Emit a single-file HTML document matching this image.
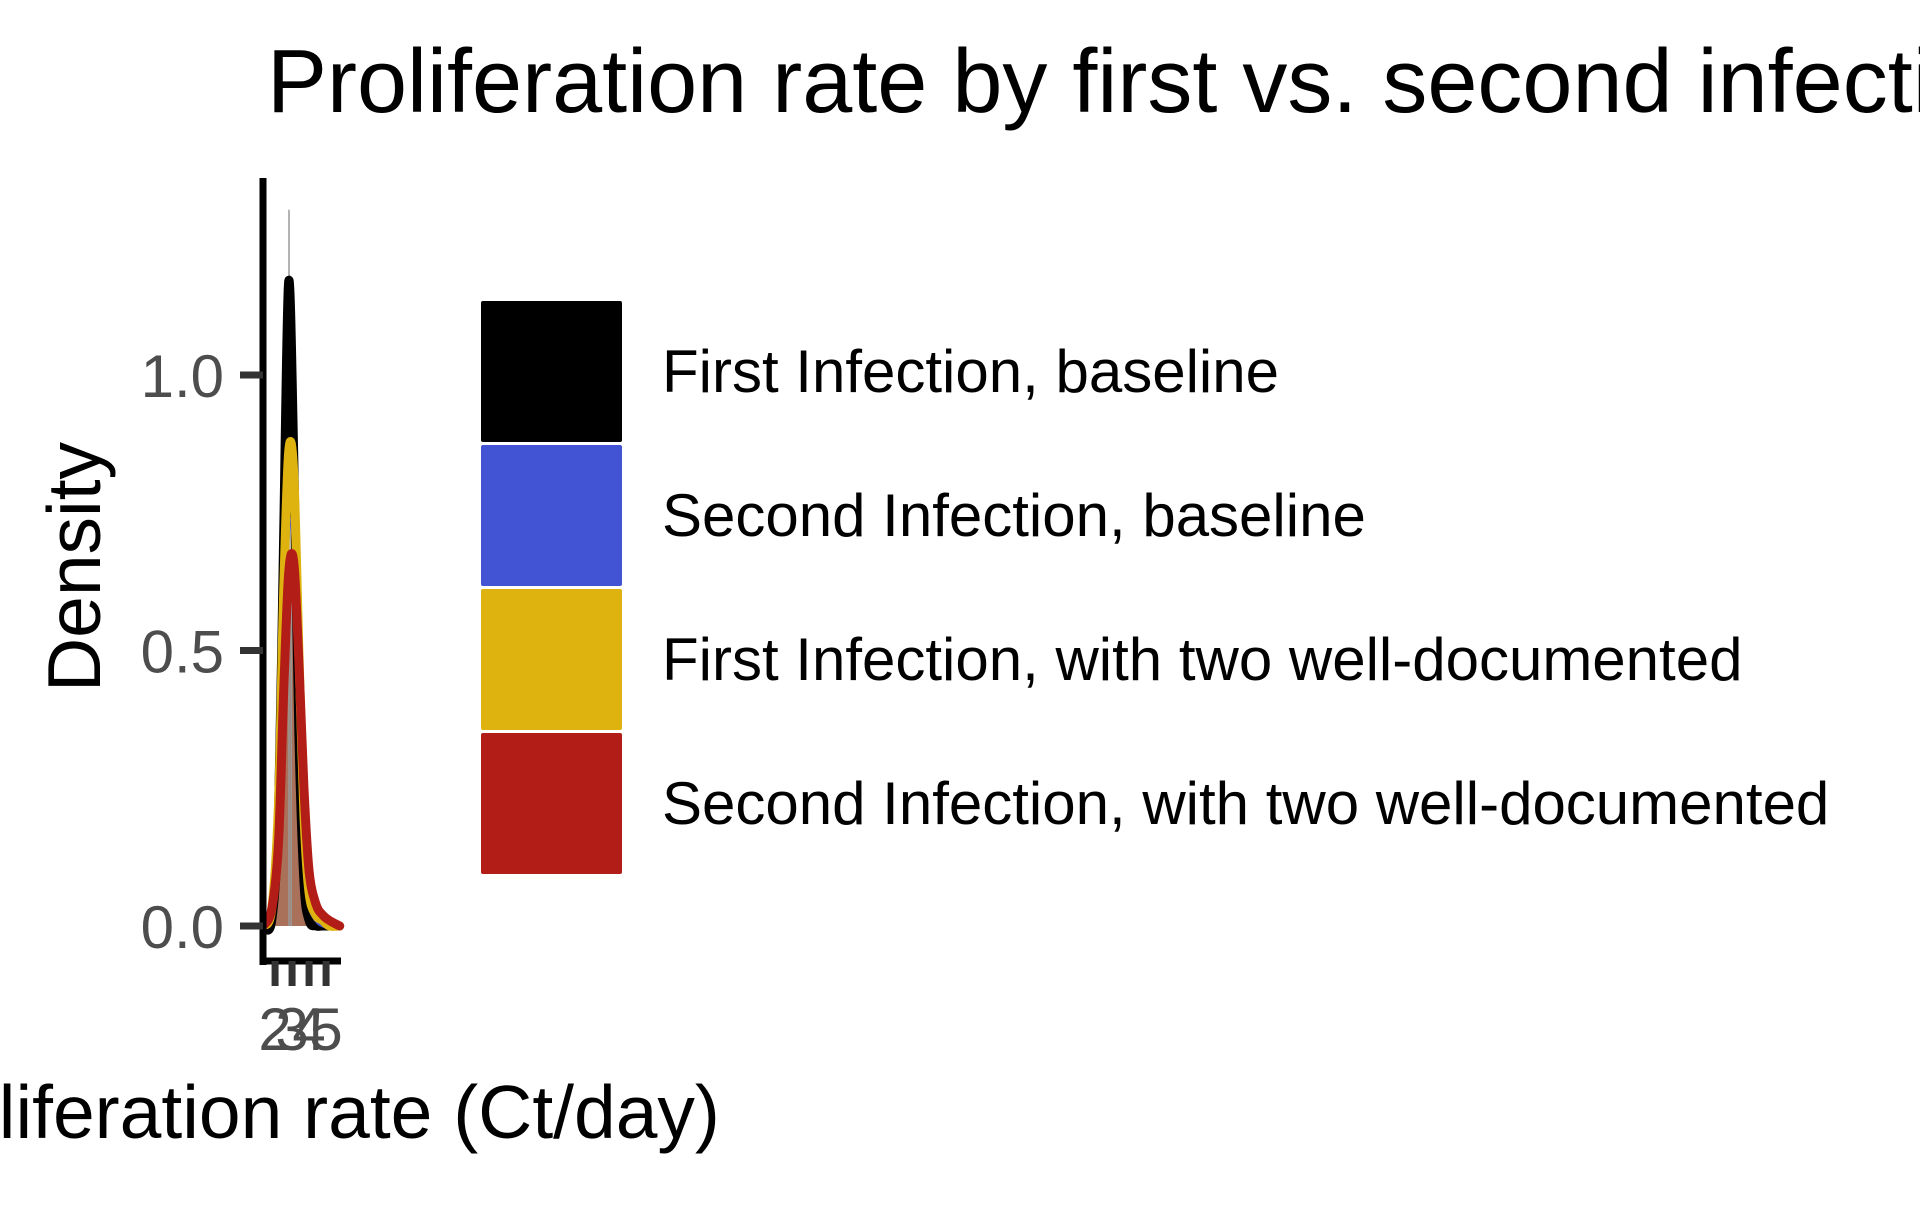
<!DOCTYPE html>
<html><head><meta charset="utf-8"><style>
body{margin:0;background:#fff;width:1920px;height:1200px;overflow:hidden;font-family:"Liberation Sans",sans-serif}
</style></head><body>
<svg id="chart" width="1920" height="1200" style="font-family:'Liberation Sans',sans-serif">
<text x="267" y="112" font-size="90" fill="#000">Proliferation rate by first vs. second infection</text>
<text transform="translate(100,567) rotate(-90)" text-anchor="middle" font-size="75" fill="#000">Density</text>
<text x="301" y="1138" text-anchor="middle" font-size="75" fill="#000">Proliferation rate (Ct/day)</text>
<g id="plot"></g>
<g id="axes"></g>
<g id="legend"></g>
</svg>
<script>
const xs=[1.3,1.8,2.2,2.5,2.8,3.1,3.4,3.7,4.0,4.4,4.8,5.2,5.8];
const firstBaseline=[0,0.01,0.2,0.7,1.17,0.85,0.35,0.08,0.01,0,0,0,0];
const secondBaseline=[0,0.02,0.15,0.45,0.72,0.68,0.4,0.15,0.04,0.01,0,0,0];
const firstTwo=[0,0.03,0.22,0.6,0.86,0.82,0.5,0.2,0.06,0.02,0.01,0,0];
const secondTwo=[0,0.03,0.15,0.42,0.64,0.66,0.48,0.25,0.1,0.04,0.02,0.01,0];
const xTicks=[2,3,4,5];
const yTicks=[0,0.5,1.0];
const yTickLabels=["0.0","0.5","1.0"];
const legendLabels=["First Infection, baseline","Second Infection, baseline","First Infection, with two well-documented","Second Infection, with two well-documented"];
const colors=["#000000","#4254d4","#deb310","#b31d17"];
const NS="http://www.w3.org/2000/svg";
const X=v=>263+(v-1.29)*17;
const Y=v=>926-v*551;
function mk(t,a,p){const e=document.createElementNS(NS,t);for(const k in a)e.setAttribute(k,a[k]);p.appendChild(e);return e;}
function pathD(vals){
  const p=xs.map((x,i)=>[X(x),Y(vals[i])]);
  let d="M"+p[0][0]+","+p[0][1];
  for(let i=0;i<p.length-1;i++){
    const p0=p[Math.max(i-1,0)],p1=p[i],p2=p[i+1],p3=p[Math.min(i+2,p.length-1)];
    const c1=[p1[0]+(p2[0]-p0[0])/6,p1[1]+(p2[1]-p0[1])/6],c2=[p2[0]-(p3[0]-p1[0])/6,p2[1]-(p3[1]-p1[1])/6];
    d+=" C"+c1+" "+c2+" "+p2;
  }
  return d;
}
const plot=document.getElementById('plot');
const series=[firstBaseline,secondBaseline,firstTwo,secondTwo];
const fill=mk('path',{d:pathD(secondTwo)+" L"+X(xs[xs.length-1])+","+Y(0)+" L"+X(xs[0])+","+Y(0)+"Z",fill:"#a9705a"},plot);


const g1=mk('line',{x1:X(2.82),x2:X(2.82),y1:Y(0),y2:Y(1.3),stroke:"#999","stroke-width":1.5},plot);


const g2=mk('line',{x1:X(2.95),x2:X(2.95),y1:Y(0),y2:Y(0.75),stroke:"#999","stroke-width":1.5},plot);


series.forEach((s,i)=>{
  const el=mk('path',{d:pathD(s),fill:"none",stroke:colors[i],"stroke-width":i==1?3:9,"stroke-linejoin":"round","stroke-linecap":"round"},plot);
  
  
});
const ax=document.getElementById('axes');
mk('line',{x1:263,x2:263,y1:178,y2:965,stroke:"#000","stroke-width":7},ax);
mk('line',{x1:260,x2:341,y1:961,y2:961,stroke:"#000","stroke-width":7},ax);
yTicks.forEach((v,i)=>{
  const t=mk('line',{x1:240,x2:263,y1:Y(v),y2:Y(v),stroke:"#333","stroke-width":7},ax);
  
  
  const l=mk('text',{x:224,y:Y(v)+22,"text-anchor":"end","font-size":60,fill:"#4d4d4d"},ax);
  l.textContent=yTickLabels[i];
  
  
});
xTicks.forEach(v=>{
  const t=mk('line',{x1:X(v),x2:X(v),y1:961,y2:986,stroke:"#333","stroke-width":7},ax);
  
  
  const l=mk('text',{x:X(v),y:1050,"text-anchor":"middle","font-size":60,fill:"#4d4d4d"},ax);
  l.textContent=v;
  
  
});
const lg=document.getElementById('legend');
legendLabels.forEach((lab,i)=>{
  const y0=301+i*144;
  const r=mk('rect',{x:481,y:y0,width:141,height:141,rx:2,fill:colors[i]},lg);
  
  
  const t=mk('text',{x:662,y:y0+91,"font-size":60,fill:"#000"},lg);
  t.textContent=lab;
  
  
});
</script>
</body></html>
